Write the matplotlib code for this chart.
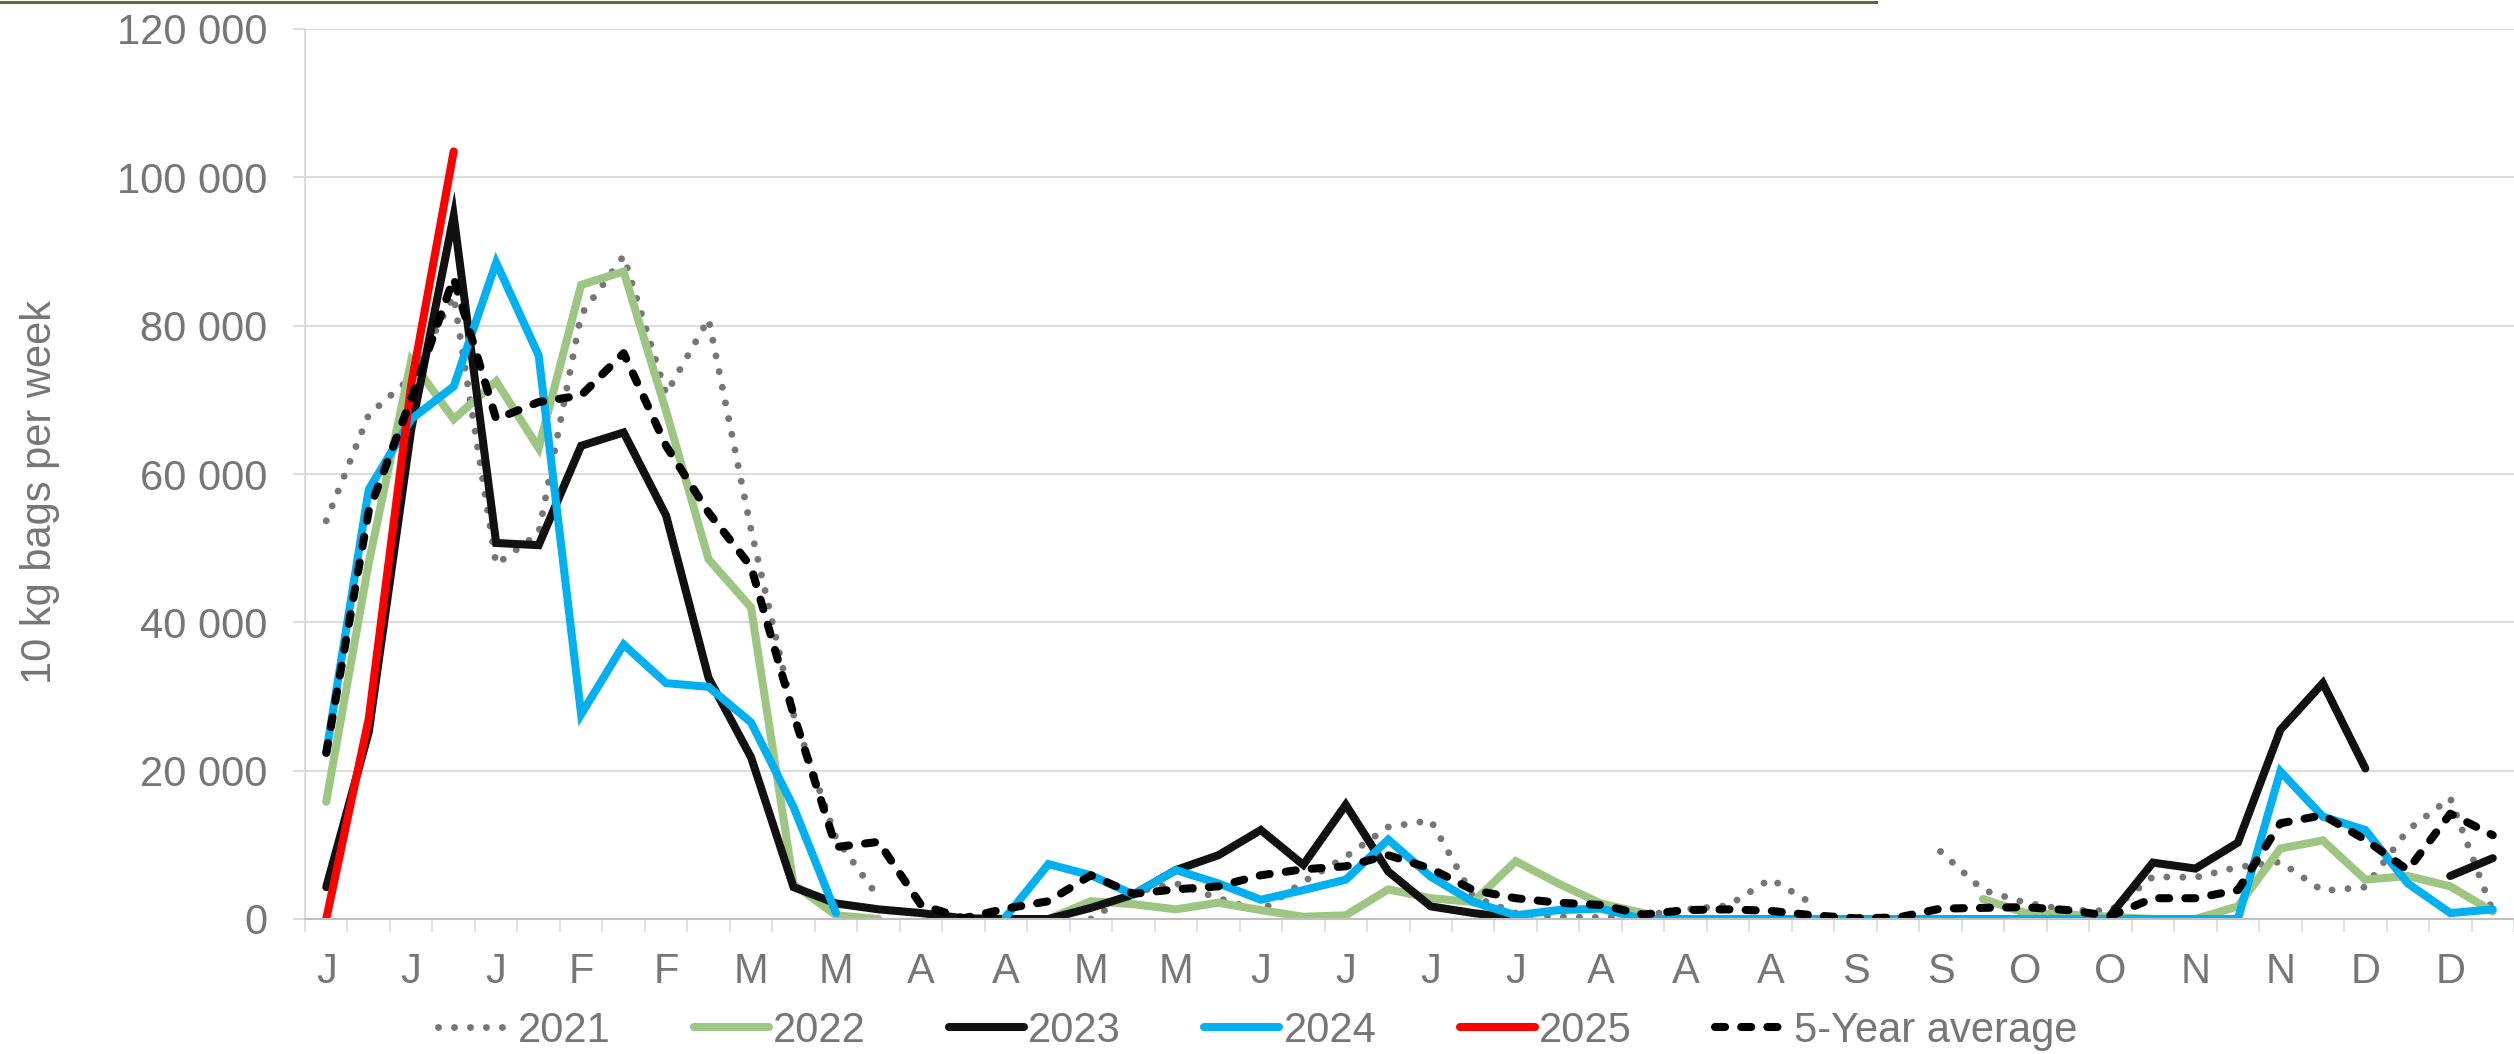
import numpy as np
import matplotlib
matplotlib.use("Agg")
import matplotlib.pyplot as plt
from matplotlib.lines import Line2D
from matplotlib.ticker import FuncFormatter, FixedLocator

nan = np.nan

week_labels = ["J", "J", "J", "F", "F", "M", "M", "A", "A", "M", "M", "J", "J",
               "J", "J", "A", "A", "A", "S", "S", "O", "O", "N", "N", "D", "D"]

y2021 = [53700, 68000, 73000, 84000, 47800, 52000, 81500, 89400, 70800, 80900,
         52500, 27600, 10900, 2900, nan, nan, nan, nan, 0, 3600,
         4800, 2800, 1100, 5000, 8400, 12400, 13300, 3000, 800, 300,
         200, 500, 1300, 1800, 5400, 2000, nan, nan, 9100, 3900,
         2200, 1200, 1100, 5700, 5600, 7000, 7700, 3800, 4300, 12000,
         16300, 1000]

y2022 = [15800, 48000, 75300, 67400, 72500, 63500, 85500, 87300, 68500, 48500,
         42000, 4700, 500, 0, nan, nan, nan, 0, 2400, 2000,
         1300, 2200, 1200, 300, 500, 4000, 2800, 2300, 7800, 4800,
         2100, 800, nan, nan, nan, nan, nan, nan, nan, 2700,
         800, 600, 300, 0, 0, 1700, 9500, 10600, 5300, 5800,
         4400, 1000]

y2023 = [4300, 25200, 66000, 94800, 50700, 50400, 63800, 65600, 54400, 32500,
         21800, 4300, 2100, 1300, 800, 100, 0, 0, 1500, 3300,
         6600, 8600, 12000, 7300, 15400, 6400, 1700, 800, 100, nan,
         nan, nan, nan, nan, nan, nan, nan, nan, nan, nan,
         nan, nan, 500, 7600, 6800, 10300, 25500, 31800, 20300, nan,
         5800, 8200]

y2024 = [22400, 57900, 67400, 71800, 88500, 76000, 27600, 37000, 31800, 31300,
         26500, 15100, 800, nan, nan, nan, 300, 7400, 5900, 3300,
         6600, 4800, 2600, 3900, 5300, 10700, 5700, 2300, 500, 1200,
         1400, 0, 0, 0, 0, 0, 0, 0, 0, 0,
         0, 0, 0, 0, 0, 0, 19900, 13800, 12000, 4800,
         800, 1300]

y2025 = [0, 27000, 72000, 103500] + [nan] * 48

yavg = [22400, 55000, 70100, 86400, 67400, 69700, 70600, 76300, 63800, 54800,
        47500, 27600, 9700, 10400, 1900, 100, 1400, 2400, 5900, 3400,
        4000, 4400, 5900, 6700, 7100, 8600, 6800, 3900, 2800, 2200,
        1900, 600, 1200, 1300, 1100, 500, 100, 200, 1400, 1500,
        1600, 1200, 400, 2800, 2800, 3900, 12900, 14000, 10700, 6600,
        14200, 11300]

series_names = ["2021", "2022", "2023", "2024", "2025", "5-Year average"]

plt.rcParams["font.family"] = ["Liberation Sans", "DejaVu Sans"]
TXT = "#767676"
GRID = "#d9d9d9"

fig = plt.figure(figsize=(25.14, 10.54), dpi=100)
ax = fig.add_axes([305 / 2514, 135 / 1054, 1 - 305 / 2514, (919 - 29) / 1054])

x = np.arange(52)
lw = 5.8
ax.plot(x, y2021, color="#767676", lw=5.0, linestyle=(0, (0.001, 2.3)),
        dash_capstyle="round", solid_capstyle="round", label=series_names[0])
ax.plot(x, y2022, color="#9dc682", lw=lw, solid_capstyle="round",
        solid_joinstyle="miter", label=series_names[1])
ax.plot(x, y2023, color="#111111", lw=lw, solid_capstyle="round",
        solid_joinstyle="miter", label=series_names[2])
ax.plot(x, y2024, color="#00b0f0", lw=lw, solid_capstyle="round",
        solid_joinstyle="miter", label=series_names[3])
ax.plot(x, y2025, color="#ff0000", lw=lw, solid_capstyle="round",
        label=series_names[4])
ax.plot(x, yavg, color="#000000", lw=lw, linestyle=(0, (1.25, 2.0)),
        dash_capstyle="round", label=series_names[5])

ax.set_xlim(-0.5, 51.5)
ax.set_ylim(0, 120000)

ax.yaxis.set_major_locator(FixedLocator(np.arange(0, 120001, 20000)))
ax.yaxis.set_major_formatter(FuncFormatter(lambda v, p: f"{int(round(v)):,}".replace(",", " ")))
ax.grid(axis="y", color=GRID, lw=1.3)
ax.set_axisbelow(True)

ax.set_xticks(np.arange(0, 52, 2))
ax.set_xticklabels(week_labels)
ax.set_xticks(np.arange(-0.5, 52, 1), minor=True)
ax.tick_params(axis="x", which="major", length=0, pad=24, labelsize=30, labelcolor=TXT)
ax.tick_params(axis="x", which="minor", length=9, width=1.2, color=GRID, direction="out")
ax.tick_params(axis="y", which="major", length=9, width=1.3, color=GRID, pad=18,
               labelsize=30, labelcolor=TXT)

for s in ["top", "right"]:
    ax.spines[s].set_visible(False)
ax.spines["left"].set_color(GRID)
ax.spines["left"].set_linewidth(1.3)
ax.spines["bottom"].set_color("#bfbfbf")
ax.spines["bottom"].set_linewidth(1.5)

fig.text(40 / 2514, 1 - 492 / 1054, "10 kg bags per week", rotation=90,
         ha="center", va="center", fontsize=30, color=TXT)

fig.add_artist(Line2D([0, 1876 / 2514], [1 - 1.5 / 1054, 1 - 1.5 / 1054],
                      transform=fig.transFigure, color="#56703c", lw=2.2))

fig.legend(loc="center", bbox_to_anchor=(0.5004, 23 / 1054), ncol=6, frameon=False,
           fontsize=30, labelcolor=TXT, handlelength=1.8, handletextpad=0.1,
           columnspacing=2.0, borderpad=0, borderaxespad=0)

fig.savefig("out.png", dpi=100, facecolor="white")
